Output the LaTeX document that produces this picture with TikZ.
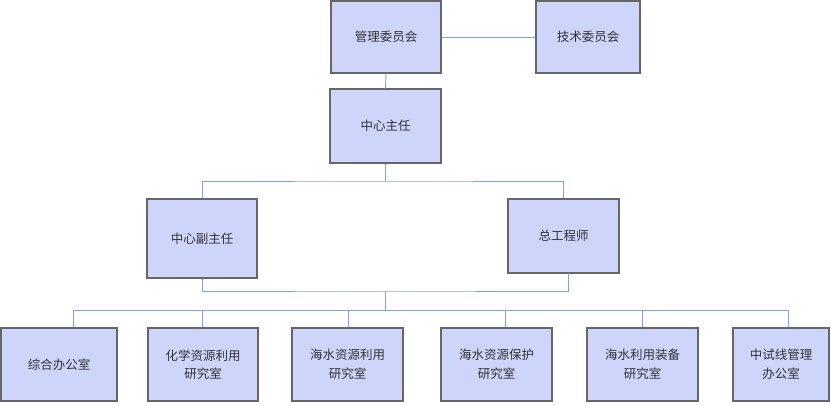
\documentclass[tikz,border=0pt]{standalone}
\usepackage{fontspec}
\newfontfamily\cjk{Noto Sans CJK SC}
\definecolor{boxfill}{HTML}{CDD5FA}
\definecolor{boxedge}{HTML}{666666}
\definecolor{linkblue}{HTML}{7DA2F2}
\definecolor{txt}{HTML}{333333}
\begin{document}
\begin{tikzpicture}[x=1pt,y=-1pt,
  orgbox/.style={draw=boxedge,line width=1.1pt,fill=boxfill,inner sep=0pt,
    font=\cjk\fontsize{12.5}{18.5}\selectfont,text=txt,align=center},
  link/.style={draw=linkblue,line width=0.9pt}]
\useasboundingbox (0,0) rectangle (831,406);
% top rows
\node[orgbox,minimum width=110pt,minimum height=72pt] (gl) at (386,37) {管理委员会};
\node[orgbox,minimum width=104pt,minimum height=72pt] (js) at (588,37) {技术委员会};
\node[orgbox,minimum width=111pt,minimum height=74pt] (zr) at (385.5,126) {中心主任};
\node[orgbox,minimum width=110pt,minimum height=79pt] (fz) at (202,238.5) {中心副主任};
\node[orgbox,minimum width=111pt,minimum height=74pt] (zg) at (563.5,236) {总工程师};
% bottom row
\node[orgbox,minimum width=116pt,minimum height=73pt] (b1) at (59,364.5) {综合办公室};
\node[orgbox,minimum width=110pt,minimum height=73pt] (b2) at (203,364.5) {化学资源利用\\研究室};
\node[orgbox,minimum width=111pt,minimum height=73pt] (b3) at (347.5,364.5) {海水资源利用\\研究室};
\node[orgbox,minimum width=111pt,minimum height=73pt] (b4) at (496.5,364.5) {海水资源保护\\研究室};
\node[orgbox,minimum width=111pt,minimum height=73pt] (b5) at (642.5,364.5) {海水利用装备\\研究室};
\node[orgbox,minimum width=96pt,minimum height=73pt] (b6) at (781,364.5) {中试线管理\\办公室};
% coordinates
\coordinate (bus1) at (385.5,181);
\coordinate (bus2) at (385.5,291);
\coordinate (bus3) at (385.5,310);
\coordinate (t1) at (73,310);
\coordinate (t2) at (202,310);
\coordinate (t3) at (348,310);
\coordinate (t4) at (505,310);
\coordinate (t5) at (642,310);
\coordinate (t6) at (788,310);
\coordinate (zgs) at (568,273);
% connectors
\draw[link] (gl.east) -- (js.west);
\draw[link] (gl.south) -- (zr.north);
\draw[link] (zr.south) -- (bus1);
\draw[link] (fz.north) |- (bus1) -| (zg.north);
\draw[link] (fz.south) |- (bus2) -| (zgs);
\draw[link] (bus2) -- (bus3);
\draw[link] (t1) -- (t6);
\draw[link] (t1) -- (t1 |- b1.north);
\draw[link] (t2) -- (t2 |- b2.north);
\draw[link] (t3) -- (t3 |- b3.north);
\draw[link] (t4) -- (t4 |- b4.north);
\draw[link] (t5) -- (t5 |- b5.north);
\draw[link] (t6) -- (t6 |- b6.north);
\end{tikzpicture}
\end{document}
